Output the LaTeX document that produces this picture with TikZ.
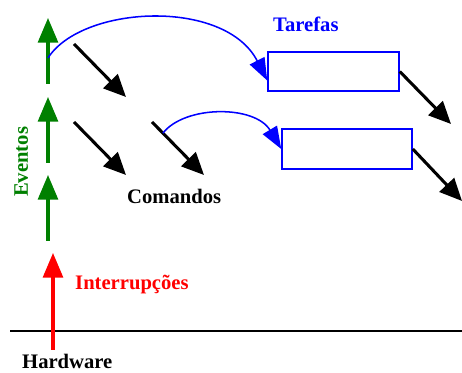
\documentclass[tikz,border=0pt]{standalone}
\usepackage{fontspec}
\setmainfont{Liberation Serif}
\usetikzlibrary{arrows.meta,calc}

\begin{document}
\begin{tikzpicture}[x=0.03cm,y=0.03cm,
	every node/.style={font=\bfseries\fontsize{17.6}{20}\selectfont, inner sep=0pt},
	evento/.style={green!50!black, line width=2.6pt, -{Triangle[length=21pt,width=17pt]}},
	comando/.style={black, line width=2.6pt, -{Triangle[length=19pt,width=17pt]}},
	chamada/.style={blue, line width=1.3pt, -{Triangle[length=19pt,width=14pt]}},
	tarefa/.style={draw=blue, line width=1.3pt}]
			\useasboundingbox (0,0) rectangle (462,373);
			\draw[line width=1.2pt] (10,42) -- (462,42);
			\foreach \y/\n in {289/1,210/2,132/3} {
				\coordinate (e\n) at (48,\y);
				\coordinate (f\n) at (48,\y+66);
				\draw[evento] (e\n) -- (f\n);
			}
			\foreach \x/\y/\n in {74/329/1,74/251/2,152/251/3} {
				\coordinate (c\n) at (\x,\y);
				\coordinate (d\n) at (\x+52,\y-53);
				\draw[comando] (c\n) -- (d\n);
			}
			\coordinate (h) at (53,23);
			\coordinate (i) at (53,120);
			\draw[evento, red] (h) -- (i);
			\node[tarefa, minimum width=3.93cm, minimum height=1.17cm] (t1) at (333.5,301.5) {};
			\node[tarefa, minimum width=3.9cm, minimum height=1.2cm] (t2) at (347,224) {};
			\coordinate (d4) at (451,249);
			\coordinate (d5) at (462,172);
			\draw[comando] (t1.east) -- (d4);
			\draw[comando] (t2.east) -- (d5);
			\coordinate (s1) at (48,315);
			\draw[chamada] (s1) .. controls (82,368) and (225,375) .. ($(t1.west)+(0,-9)$);
			\draw[chamada] ($(c3)!0.21!(d3)$) .. controls (185,268) and (255,268) .. (t2.west);
			\node[anchor=base west, blue] (tar) at (273,341) {Tarefas};
			\node[anchor=base west] (cmd) at (127,169) {Comandos};
			\node[anchor=base west, rotate=90, green!50!black] (ev) at (28,176) {Eventos};
			\node[anchor=base west, red] (irq) at (75,83) {Interrupções};
			\node[anchor=base west] (hw) at (22,4.4) {Hardware};
		\end{tikzpicture}
\end{document}
